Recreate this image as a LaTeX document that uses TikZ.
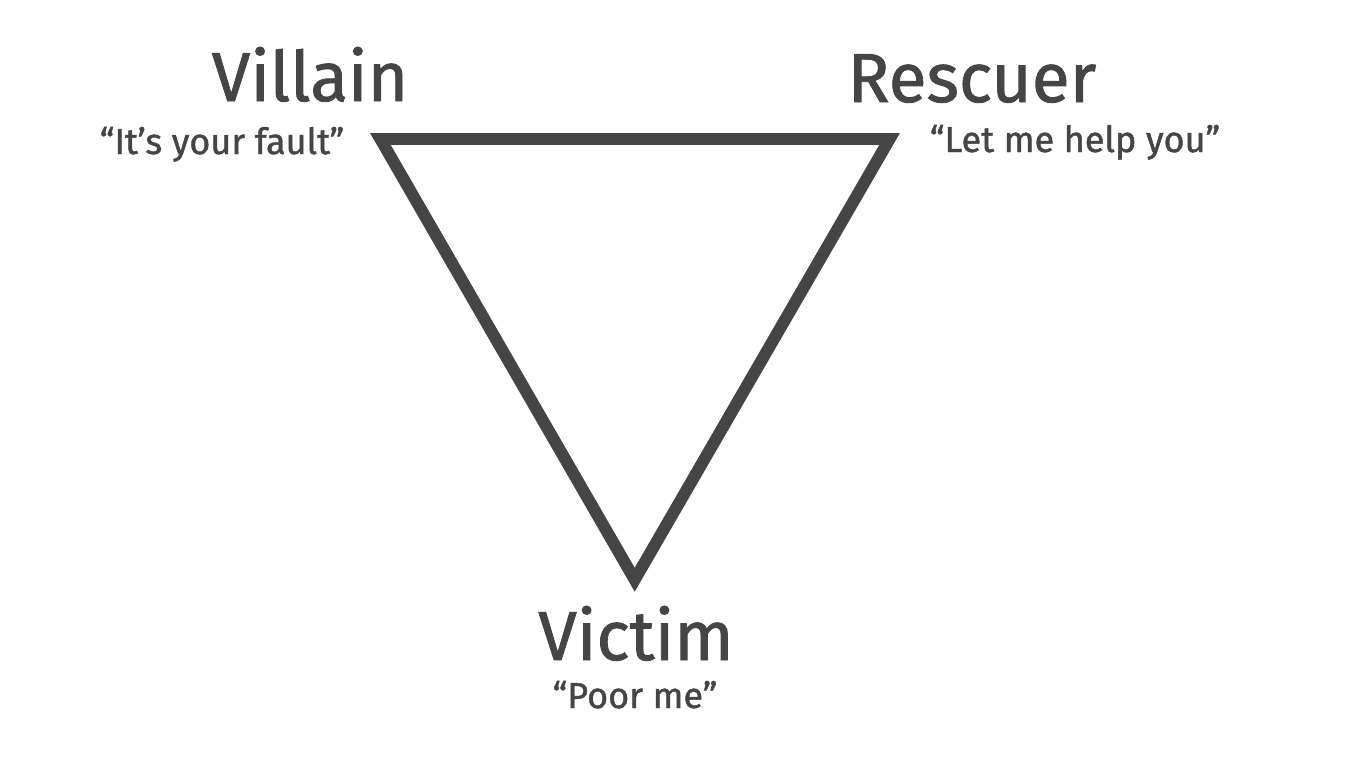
\documentclass[tikz,border=0pt]{standalone}
\usepackage{fontspec}
\setmainfont{Fira Sans}
\newfontfamily\rolefont{Fira Sans}[RawFeature={embolden=1.2}]
\usepackage{xcolor}
\usepackage{tikz}
\definecolor{darkgrey}{HTML}{454545}
\tikzset{
    role/.style={anchor=base,text=darkgrey,inner sep=0pt,font=\rolefont\fontsize{39.5}{42}\selectfont},
    quote/.style={anchor=base,text=darkgrey,inner sep=0pt,font=\rolefont\fontsize{20.5}{22}\selectfont},
}

\begin{document}
\begin{tikzpicture}[x=0.02cm,y=-0.02cm]
    \useasboundingbox (0,0) rectangle (1346,758);
    \coordinate (P) at (380.4,139);
    \coordinate (R) at (889.6,139);
    \coordinate (V) at (634.7,579.7);
    \draw[darkgrey,line width=6.8pt,line join=miter] (P) -- (R) -- (V) -- cycle;
    \node[role] (villain) at (310,101) {Villain};
    \node[quote] (villainq) at (222,154) {“It’s your fault”};
    \node[role] (rescuer) at (972,102) {Rescuer};
    \node[quote] (rescuerq) at (1075,152) {“Let me help you”};
    \node[role] (victim) at (636,660) {Victim};
    \node[quote] (victimq) at (635,708) {“Poor me”};
\end{tikzpicture}
\end{document}
